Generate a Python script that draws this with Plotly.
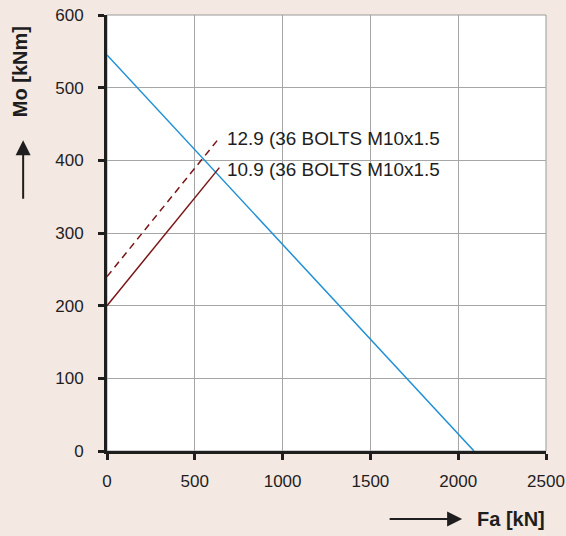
import plotly.graph_objects as go

# Data
fa_limit = [0, 2090]
mo_limit = [545, 0]
fa_109 = [0, 640]
mo_109 = [200, 390]
fa_129 = [0, 630]
mo_129 = [240, 428]
label_129 = "12.9 (36 BOLTS M10x1.5"
label_109 = "10.9 (36 BOLTS M10x1.5"
label_pos_x = 672
label_129_y = 430
label_109_y = 388
x_ticks = [0, 500, 1000, 1500, 2000, 2500]
y_ticks = [0, 100, 200, 300, 400, 500, 600]

BG = "#f4e8e2"
FAM = "Liberation Sans, Arial, sans-serif"
fig = go.Figure()
fig.add_trace(go.Scatter(x=fa_limit, y=mo_limit, mode="lines",
                         line=dict(color="#1f8fd6", width=1.5), showlegend=False))
fig.add_trace(go.Scatter(x=fa_129, y=mo_129, mode="lines",
                         line=dict(color="#7b1416", width=1.5, dash="7px,5px"), showlegend=False))
fig.add_trace(go.Scatter(x=fa_109, y=mo_109, mode="lines",
                         line=dict(color="#7b1416", width=1.5), showlegend=False))

fnt = dict(family=FAM, size=17, color="#1e1e1e")
lfnt = dict(family=FAM, size=18.9, color="#1e1e1e")

fig.add_annotation(x=label_pos_x, y=label_129_y, text=label_129, showarrow=False,
                   xanchor="left", yanchor="middle", font=lfnt)
fig.add_annotation(x=label_pos_x, y=label_109_y, text=label_109, showarrow=False,
                   xanchor="left", yanchor="middle", font=lfnt)

# Axis titles with arrows
tfnt = dict(family=FAM, size=20, color="#1e1e1e")
fig.add_annotation(xref="paper", yref="paper", x=-0.198, y=0.869, xanchor="center",
                   yanchor="middle", text="<b>Mo [kNm]</b>", textangle=-90,
                   showarrow=False, font=tfnt)
fig.add_annotation(xref="paper", yref="paper", x=-0.191, y=0.713, ax=0, ay=60,
                   text="", showarrow=True, arrowhead=2, arrowsize=1.5, arrowwidth=2,
                   arrowcolor="#1e1e1e")
fig.add_annotation(xref="paper", yref="paper", x=1.002, y=-0.156, xanchor="right",
                   yanchor="middle", text="<b>Fa [kN]</b>", showarrow=False, font=tfnt)
fig.add_annotation(xref="paper", yref="paper", x=0.809, y=-0.156, ax=-74, ay=0,
                   text="", showarrow=True, arrowhead=2, arrowsize=1.5, arrowwidth=2,
                   arrowcolor="#1e1e1e")

fig.add_shape(type="rect", xref="paper", yref="paper", x0=0, y0=0, x1=1, y1=1,
              line=dict(color="#9a9a9a", width=1), layer="below")

fig.update_xaxes(range=[0, 2500], tickvals=x_ticks, showgrid=True, gridcolor="#a6a6a6",
                 gridwidth=1, showline=True, linecolor="#1e1e1e", linewidth=3,
                 ticks="outside", ticklen=6, tickwidth=3, tickcolor="#1e1e1e",
                 zeroline=False, tickfont=fnt, ticklabelstandoff=7, automargin=False)
fig.update_yaxes(range=[0, 600], tickvals=y_ticks, showgrid=True, gridcolor="#a6a6a6",
                 gridwidth=1, showline=True, linecolor="#1e1e1e", linewidth=3,
                 ticks="outside", ticklen=6, tickwidth=3, tickcolor="#1e1e1e",
                 zeroline=False, tickfont=fnt, ticklabelstandoff=11, automargin=False)

fig.update_layout(width=566, height=536, paper_bgcolor=BG, plot_bgcolor="white",
                  margin=dict(l=107, r=20, t=15, b=85), showlegend=False)

fig.write_html("out.html", config={"displayModeBar": False},
               post_script="document.body.style.margin='0';document.body.style.padding='0';")
